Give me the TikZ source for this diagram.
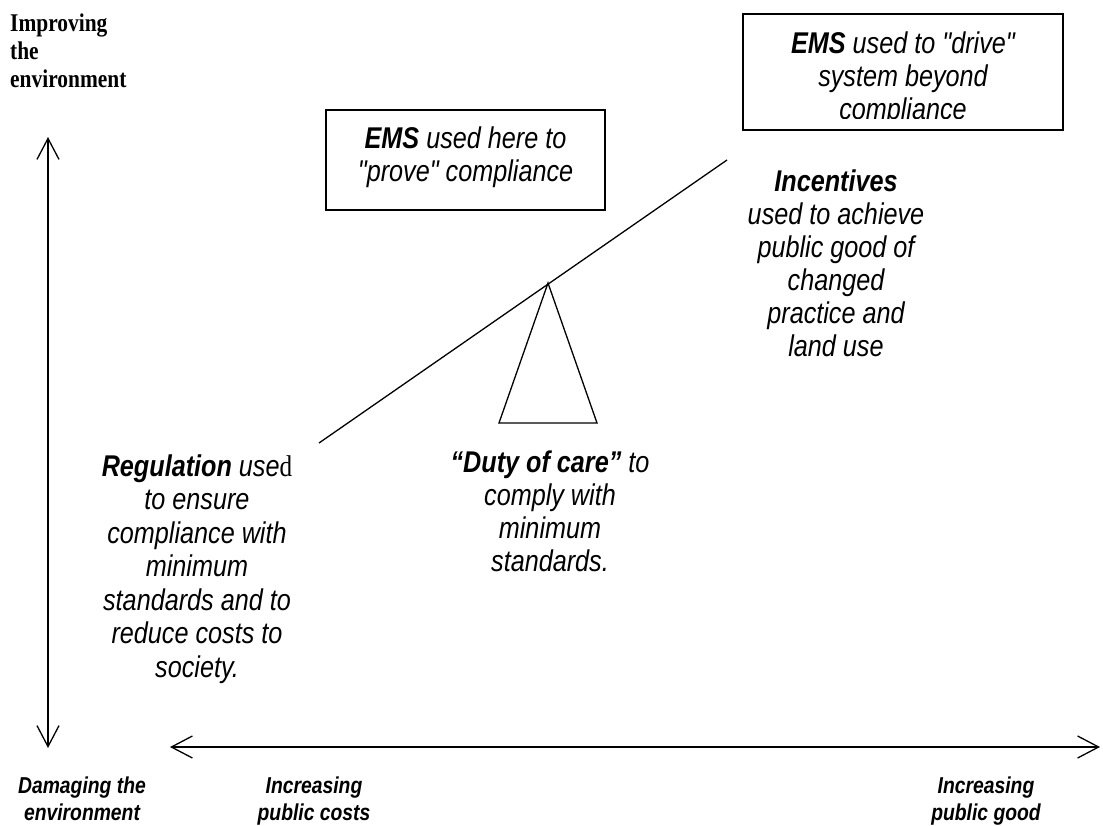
\documentclass[tikz,border=0pt]{standalone}
\usepackage{fontspec}
\usetikzlibrary{arrows.meta}
\newfontfamily\arialn[FakeStretch=0.84]{Liberation Sans}
\newfontfamily\timesn[FakeStretch=0.84]{Liberation Serif}
\begin{document}
\begin{tikzpicture}[x=1pt,y=-1pt,
  body/.style={font=\arialn\itshape\fontsize{30}{33}\selectfont, align=center, inner sep=0pt, anchor=base},
  axislabel/.style={font=\arialn\bfseries\itshape\fontsize{23}{27}\selectfont, align=center, inner sep=0pt, anchor=base},
  boxed/.style={draw, line width=1.4pt},
  thinline/.style={line width=1.3pt},
  axis/.style={line width=1.3pt, {Straight Barb[length=21pt,width=22pt,line width=1.3pt]}-{Straight Barb[length=21pt,width=22pt,line width=1.3pt]}}
]
\useasboundingbox (0,0) rectangle (1103,825);

% top-left heading (anchor at last baseline)
\node[font=\timesn\bfseries\fontsize{25.5}{28}\selectfont, align=left, inner sep=0pt, anchor=base west] (improve) at (10,87) {Improving\\the\\environment};

% axes
\coordinate (vtop) at (48,137);
\coordinate (vbot) at (48,748);
\coordinate (hleft) at (170,747);
\coordinate (hright) at (1100,747);
\draw[axis] (vtop) -- (vbot);
\draw[axis] (hleft) -- (hright);

% boxes
\draw[boxed] (326,110) rectangle (605,210);
\node[body] (ems1) at (465.5,181) {\textbf{EMS} used here to\\"prove" compliance};

\draw[boxed] (743,14) rectangle (1063,130);
\begin{scope}
  \clip (743,14) rectangle (1063,118);
  \node[body] (ems2) at (903,119) {\textbf{EMS} used to "drive"\\system beyond\\compliance};
\end{scope}

% seesaw
\coordinate (lever1) at (319,443);
\coordinate (lever2) at (727,160);
\draw[thinline] (lever1) -- (lever2);
\coordinate (apex) at (548,283);
\coordinate (bl) at (499,423);
\coordinate (br) at (597,423);
\draw[thinline, line join=miter] (apex) -- (bl) -- (br) -- cycle;

% texts
\node[body, font=\arialn\itshape\fontsize{30}{33.5}\selectfont] (reg) at (197,677) {\textbf{Regulation} use{\timesn\upshape d}\\to ensure\\compliance with\\minimum\\standards and to\\reduce costs to\\society.};
\node[body] (duty) at (550,571) {\textbf{“Duty of care”} to\\comply with\\minimum\\standards.};
\node[body] (inc) at (836,356) {\textbf{Incentives}\\used to achieve\\public good of\\changed\\practice and\\land use};

% axis labels
\node[axislabel] (damage) at (82,820) {Damaging the\\environment};
\node[axislabel] (costs) at (314,820) {Increasing\\public costs};
\node[axislabel] (good) at (986,820) {Increasing\\public good};
\end{tikzpicture}
\end{document}
